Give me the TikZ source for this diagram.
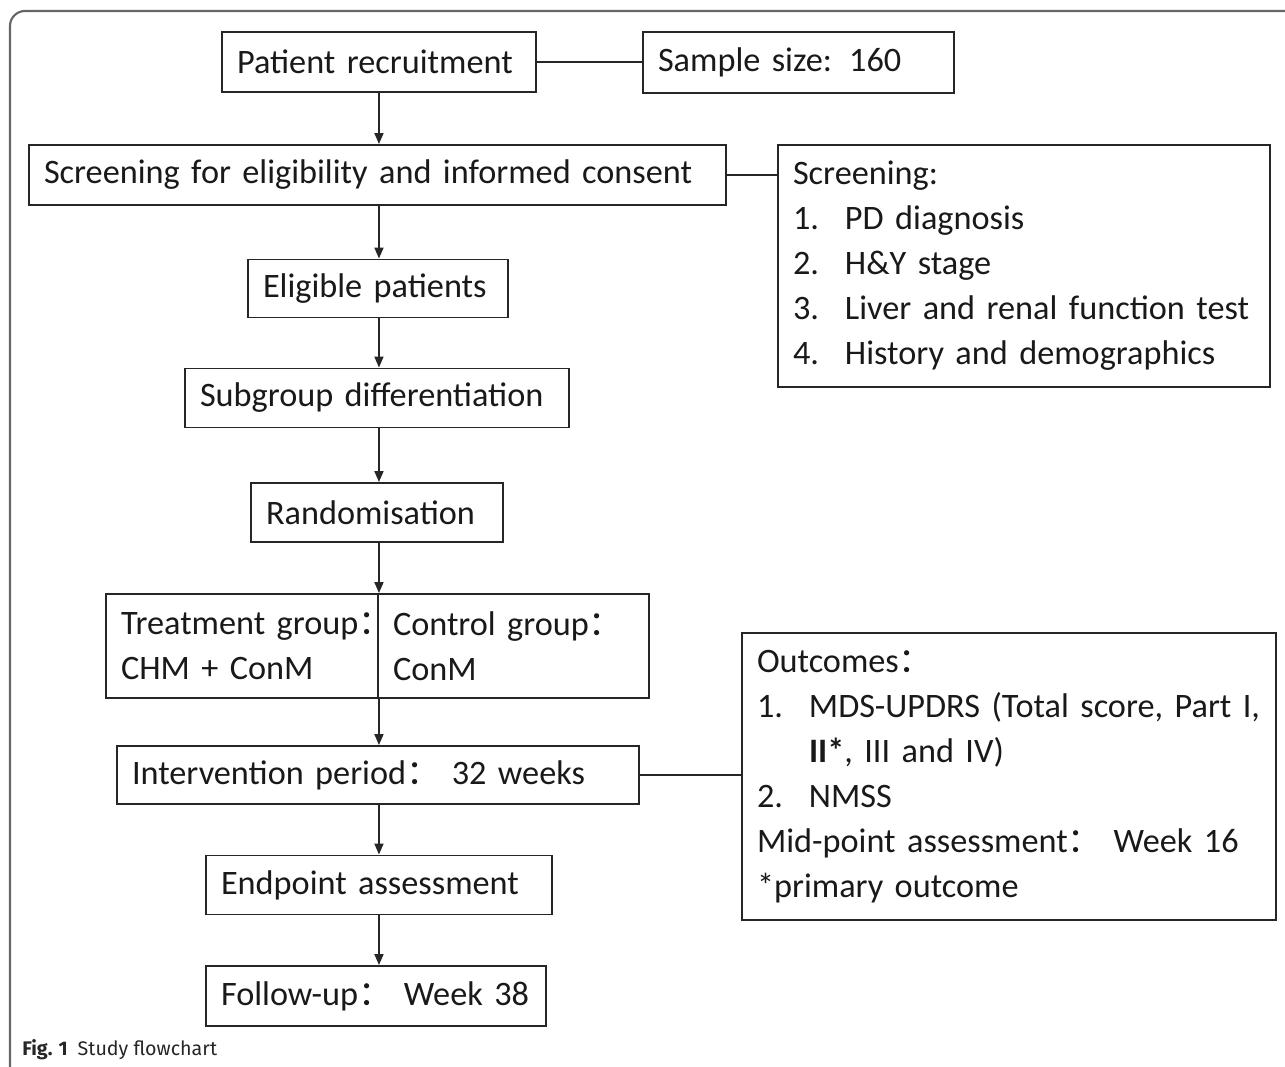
\documentclass[tikz,border=0pt]{standalone}
\usepackage{fontspec}
\setmainfont{Carlito}
\newfontfamily\cjk{Noto Sans CJK SC}
\newfontfamily\capfont{Fira Sans}
\usetikzlibrary{arrows.meta}
\newcommand{\fc}{{\cjk ：}}
\newcommand{\itm}[1]{\makebox[1.04cm][l]{#1}}
\begin{document}
\begin{tikzpicture}[
  box/.style={draw=black!85, line width=1.1pt, inner xsep=0.3cm, inner ysep=0pt,
    align=left, text=black!90, font=\fontsize{19.5}{25.6}\selectfont},
  arr/.style={draw=black!85, line width=1pt, -{Triangle[length=0.22cm,width=0.18cm]}},
  conn/.style={draw=black!85, line width=1pt}
]
\useasboundingbox (0,0) rectangle (25.7,-21.34);
% outer frame (partially visible)
\draw[line width=1.2pt, black!60] (25.7,-0.22) -- (0.5,-0.22)
  arc[start angle=90,end angle=180,radius=0.3] -- (0.2,-21.34);

\node[box, text width=5.68cm, minimum height=1.2cm] (rec) at (7.58,-1.24) {Patient recruitment};
\node[box, text width=5.62cm, minimum height=1.22cm] (ss) at (15.97,-1.25) {Sample size: 160};
\node[box, text width=13.34cm, minimum height=1.2cm] (scr) at (7.55,-3.50) {Screening for eligibility and informed consent};
\node[box, text width=9.24cm, minimum height=4.84cm] (scl) at (20.48,-5.32)
  {Screening:\\ \itm{1.}PD diagnosis\\ \itm{2.}H\&Y stage\\ \itm{3.}Liver and renal function test\\ \itm{4.}History and demographics};
\node[box, text width=4.6cm, minimum height=1.16cm] (eli) at (7.56,-5.77) {Eligible patients};
\node[box, text width=7.08cm, minimum height=1.18cm] (sub) at (7.54,-7.96) {Subgroup differentiation};
\node[box, text width=4.44cm, minimum height=1.18cm] (ran) at (7.54,-10.25) {Randomisation};
\node[box, text width=4.84cm, minimum height=2.08cm] (trt) at (4.84,-12.92) {\mbox{Treatment group\fc}\\ CHM + ConM};
\node[box, text width=4.82cm, minimum height=2.08cm] (ctl) at (10.27,-12.92) {\mbox{Control group\fc}\\ ConM};
\node[box, text width=9.84cm, minimum height=1.16cm] (int) at (7.56,-15.50) {Intervention period\fc\ 32 weeks};
\node[box, text width=10.08cm, minimum height=5.74cm] (out) at (20.18,-15.53)
  {Outcomes\fc\\ \itm{1.}MDS-UPDRS (Total score, Part I,\\ \hspace*{1.04cm}\textbf{II*}, III and IV)\\ \itm{2.}NMSS\\ Mid-point assessment\fc\ Week 16\\ {*}primary outcome};
\node[box, text width=6.32cm, minimum height=1.18cm] (end) at (7.58,-17.70) {Endpoint assessment};
\node[box, text width=6.2cm, minimum height=1.2cm] (fu) at (7.52,-19.92) {Follow-up\fc\ Week 38};

\node[anchor=west, inner sep=0pt, text=black!85, font=\capfont\fontsize{11.2}{13}\selectfont] (cap) at (0.44,-21.0)
  {\textbf{Fig. 1}\hspace{0.5em}Study flowchart};

\coordinate (sp) at (trt.north east);
\draw[arr] (rec.south -| sp) -- (scr.north -| sp);
\draw[arr] (scr.south -| sp) -- (eli.north -| sp);
\draw[arr] (eli.south -| sp) -- (sub.north -| sp);
\draw[arr] (sub.south -| sp) -- (ran.north -| sp);
\draw[arr] (ran.south -| sp) -- (trt.north east);
\draw[arr] (trt.south east) -- (int.north -| sp);
\draw[arr] (int.south -| sp) -- (end.north -| sp);
\draw[arr] (end.south -| sp) -- (fu.north -| sp);

\draw[conn] (rec.east) -- (rec.east -| ss.west);
\draw[conn] (scr.east) -- (scr.east -| scl.west);
\draw[conn] (int.east) -- (int.east -| out.west);
\end{tikzpicture}
\end{document}
